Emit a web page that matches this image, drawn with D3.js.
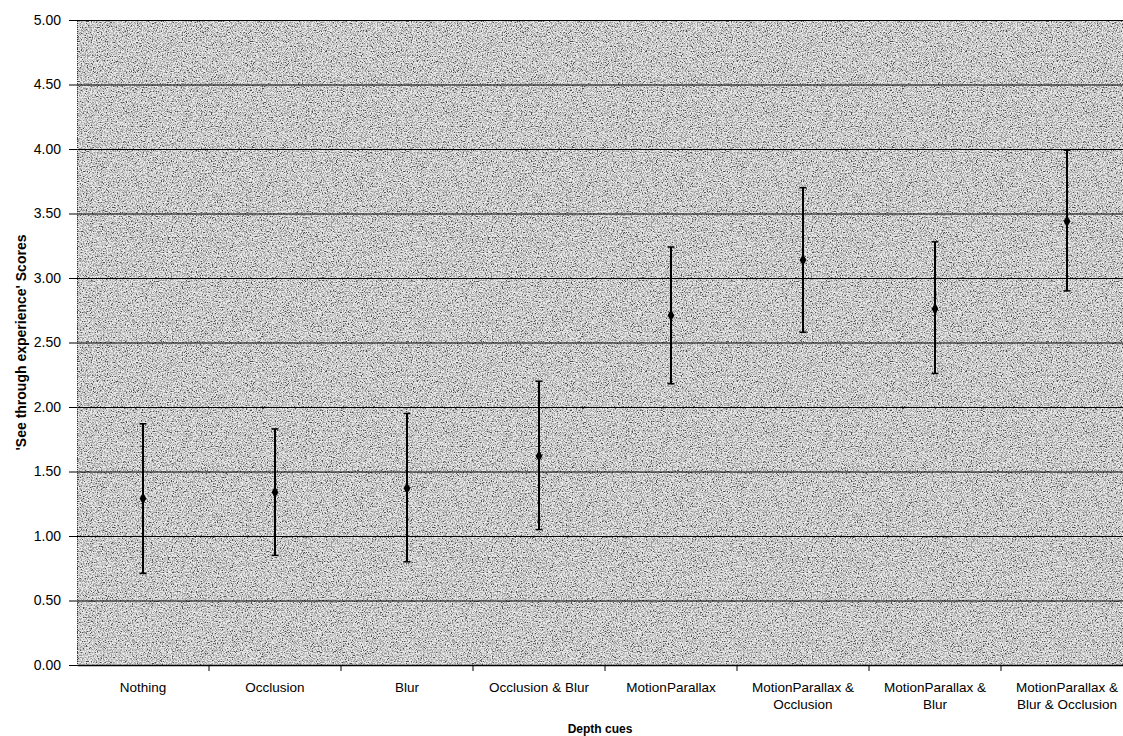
<!DOCTYPE html>
<html>
<head>
<meta charset="utf-8">
<script src="https://cdn.jsdelivr.net/npm/d3@7"></script>
<style>
  body { margin: 0; background: #fff; }
  text { font-family: "Liberation Sans", Arial, sans-serif; fill: #000; }
</style>
</head>
<body>
<script>
const categories = [
  "Nothing", "Occlusion", "Blur", "Occlusion & Blur", "MotionParallax",
  "MotionParallax & Occlusion", "MotionParallax & Blur", "MotionParallax & Blur & Occlusion"
];
const labelLines = [
  ["Nothing"], ["Occlusion"], ["Blur"], ["Occlusion & Blur"], ["MotionParallax"],
  ["MotionParallax &", "Occlusion"], ["MotionParallax &", "Blur"], ["MotionParallax &", "Blur & Occlusion"]
];
const means = [1.29, 1.34, 1.37, 1.62, 2.71, 3.14, 2.76, 3.44];
const lower = [0.71, 0.85, 0.80, 1.05, 2.18, 2.58, 2.26, 2.90];
const upper = [1.87, 1.83, 1.95, 2.20, 3.24, 3.70, 3.28, 3.99];
const yTicks = [0, 0.5, 1, 1.5, 2, 2.5, 3, 3.5, 4, 4.5, 5];

const width = 1123, height = 736;
const plotL = 77, plotR = 1133, plotT = 20, plotB = 665;

const svg = d3.create("svg").attr("width", width).attr("height", height);

// grainy halftone look of the plot area
const f = svg.append("defs").append("filter").attr("id", "grain")
  .attr("x", 0).attr("y", 0).attr("width", 1).attr("height", 1);
f.append("feTurbulence").attr("type", "fractalNoise")
  .attr("baseFrequency", 0.8).attr("numOctaves", 3).attr("seed", 7);
f.append("feColorMatrix").attr("type", "matrix")
  .attr("values", "0 0 0 0 0  0 0 0 0 0  0 0 0 0 0  -2 0 0 0 1.35");
f.append("feComponentTransfer").append("feFuncA")
  .attr("type", "discrete").attr("tableValues", "0 0.3 0.6 0.9");
f.append("feComposite").attr("in2", "SourceGraphic").attr("operator", "over");

const x = d3.scaleBand().domain(categories).range([plotL, plotR]);
const y = d3.scaleLinear([0, 5], [plotB, plotT]);

svg.append("rect")
  .attr("x", plotL).attr("y", plotT)
  .attr("width", plotR - plotL).attr("height", plotB - plotT)
  .attr("fill", "#e8e8e8")
  .attr("filter", "url(#grain)");

// gridlines
svg.append("g").selectAll("line")
  .data(yTicks.filter(d => d > 0))
  .join("line")
  .attr("x1", plotL).attr("x2", plotR)
  .attr("y1", d => y(d) + 0.5).attr("y2", d => y(d) + 0.5)
  .attr("stroke", "#000").attr("stroke-width", 1);

// y axis
const yAxis = svg.append("g")
  .attr("transform", `translate(${plotL},0)`)
  .call(d3.axisLeft(y).tickValues(yTicks).tickFormat(d3.format(".2f")).tickSize(8).tickPadding(8));
yAxis.select(".domain").attr("stroke", "#333").attr("stroke-dasharray", "1,1");
yAxis.selectAll("text").style("font-size", "14px");

// x axis
const xAxis = svg.append("g")
  .attr("transform", `translate(0,${plotB})`)
  .call(d3.axisBottom(x).tickSize(0).tickFormat(""));
xAxis.select(".domain").attr("stroke", "#000").attr("stroke-width", 1.5);

svg.append("g").selectAll("line")
  .data(categories.slice(1))
  .join("line")
  .attr("x1", d => x(d)).attr("x2", d => x(d))
  .attr("y1", plotB).attr("y2", plotB + 6)
  .attr("stroke", "#000");

svg.append("g").selectAll("text")
  .data(labelLines)
  .join("text")
  .attr("text-anchor", "middle")
  .style("font-size", "13.5px")
  .attr("transform", (d, i) => `translate(${x(categories[i]) + x.bandwidth() / 2},${plotB + 27})`)
  .selectAll("tspan")
  .data(d => d)
  .join("tspan")
  .attr("x", 0)
  .attr("dy", (d, i) => i === 0 ? 0 : 17)
  .text(d => d);

// error bars
const g = svg.append("g").attr("stroke", "#000");
categories.forEach((c, i) => {
  const cx = x(c) + x.bandwidth() / 2;
  g.append("line").attr("x1", cx).attr("x2", cx)
    .attr("y1", y(upper[i])).attr("y2", y(lower[i])).attr("stroke-width", 2);
  g.append("line").attr("x1", cx - 3.5).attr("x2", cx + 3.5)
    .attr("y1", y(upper[i])).attr("y2", y(upper[i])).attr("stroke-width", 1.5);
  g.append("line").attr("x1", cx - 3.5).attr("x2", cx + 3.5)
    .attr("y1", y(lower[i])).attr("y2", y(lower[i])).attr("stroke-width", 1.5);
});
svg.append("g").selectAll("path")
  .data(means)
  .join("path")
  .attr("d", d3.symbol(d3.symbolDiamond, 40))
  .attr("transform", (d, i) => `translate(${x(categories[i]) + x.bandwidth() / 2},${y(d)})`)
  .attr("fill", "#000");

// titles
svg.append("text")
  .attr("transform", `translate(26,${(plotT + plotB) / 2}) rotate(-90)`)
  .attr("text-anchor", "middle")
  .style("font-size", "14px").style("font-weight", "bold")
  .text("'See through experience' Scores");
svg.append("text")
  .attr("x", 600).attr("y", 733)
  .attr("text-anchor", "middle")
  .style("font-size", "12px").style("font-weight", "bold")
  .text("Depth cues");

document.body.appendChild(svg.node());
</script>
</body>
</html>
